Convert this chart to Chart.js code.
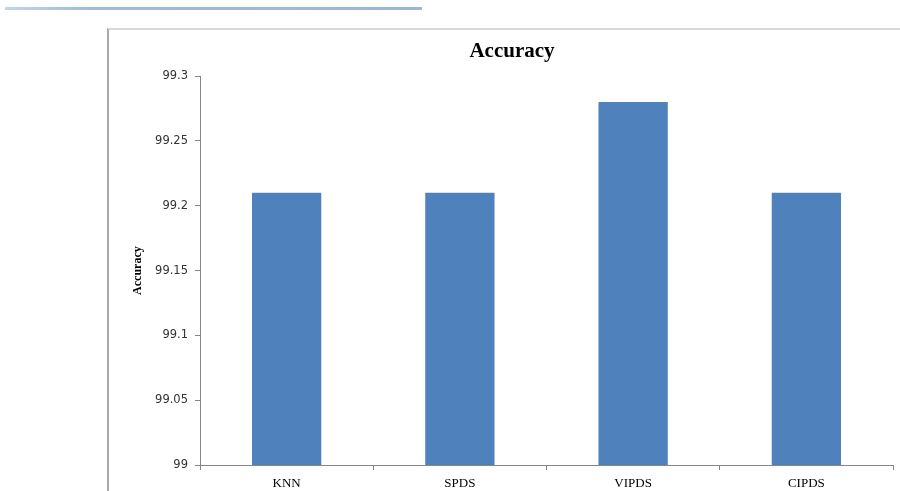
<!DOCTYPE html>
<html>
<head>
<meta charset="utf-8">
<script src="https://cdn.jsdelivr.net/npm/chart.js@4"></script>
<style>
  html, body { margin: 0; padding: 0; background: #fff; }
  #wrap { position: relative; width: 900px; height: 491px; overflow: hidden; }
  .topline { position: absolute; left: 5px; top: 7px; width: 417px; height: 3px;
             background: linear-gradient(to right, #c3d5ec, #9fbbe2 20%, #9ab6e0); }
  .frame { position: absolute; left: 107px; top: 28px; width: 900px; height: 600px;
           border-left: 2px solid #a8a8a8; border-top: 2px solid #d9d9d9; }
  canvas { position: absolute; left: 0; top: 0; }
</style>
</head>
<body>
<div id="wrap">
  <div class="topline"></div>
  <div class="frame"></div>
  <canvas id="chart" width="900" height="491"></canvas>
</div>
<script>
'use strict';

// ── data ──
const methods  = ['KNN', 'SPDS', 'VIPDS', 'CIPDS'];
const accuracy = [99.21, 99.21, 99.28, 99.21];
const yTicks   = [99, 99.05, 99.1, 99.15, 99.2, 99.25, 99.3];

const AXIS = '#868686';

new Chart(document.getElementById('chart').getContext('2d'), {
  type: 'bar',
  data: {
    labels: methods,
    datasets: [{
      label: 'Accuracy',
      data: accuracy,
      backgroundColor: '#4f81bd',
      borderWidth: 0,
      barPercentage: 0.4,
      categoryPercentage: 1,
    }]
  },
  options: {
    responsive: false,
    animation: false,
    layout: { padding: { left: 131, right: 7, top: 39, bottom: 0 } },
    plugins: {
      legend: { display: false },
      tooltip: { enabled: false },
      title: {
        display: true,
        text: 'Accuracy',
        color: '#000',
        font: { family: 'Liberation Serif', size: 21, weight: 'bold' },
        padding: { top: 0, bottom: 12 },
      },
    },
    scales: {
      x: {
        afterFit: s => { s.height = 26; },
        grid: { drawOnChartArea: false, offset: true, tickLength: 5, color: AXIS },
        border: { color: AXIS, width: 1 },
        ticks: { color: '#000', padding: 6, font: { family: 'Liberation Serif', size: 13 } },
      },
      y: {
        min: 99, max: 99.3,
        afterBuildTicks: s => { s.ticks = yTicks.map(v => ({ value: v })); },
        afterFit: s => { s.width = 69; },
        grid: { drawOnChartArea: false, tickLength: 5, color: AXIS },
        border: { color: AXIS, width: 1 },
        ticks: { color: '#333', padding: 7, font: { family: 'DejaVu Sans', size: 11.5 },
                 callback: v => String(+v.toFixed(2)) },
        title: {
          display: true,
          text: 'Accuracy',
          color: '#000',
          font: { family: 'Liberation Serif', size: 12, weight: 'bold' },
          padding: { top: 0, bottom: 0 },
        },
      }
    }
  }
});
</script>
</body>
</html>
